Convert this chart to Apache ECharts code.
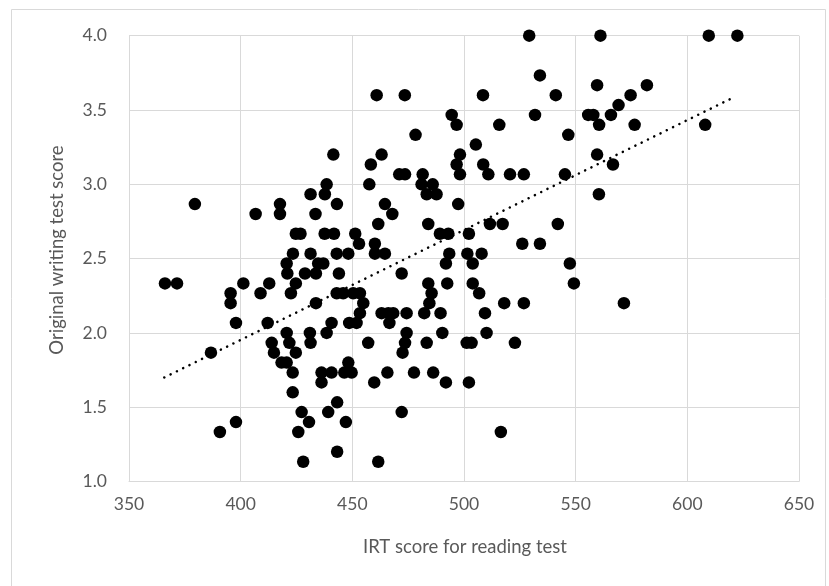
<!DOCTYPE html>
<html>
<head>
<meta charset="utf-8">
<script src="https://cdn.jsdelivr.net/npm/echarts@6/dist/echarts.min.js"></script>
<style>
html,body{margin:0;padding:0;background:#fff;}
#chart{width:829px;height:586px;}
</style>
</head>
<body>
<div id="chart"></div>
<script>
// IRT score for reading test (x) and original writing test score (y)
const readingScores = [
366.1,371.5,379.5,386.7,390.7,397.9,395.5,395.5,397.9,401.2,
406.7,408.9,412.8,412.1,413.9,414.9,417.6,417.6,418.3,420.6,
420.6,420.6,420.9,421.8,422.5,423.3,423.3,423.4,424.7,426.8,
424.7,424.7,425.8,427.3,428.0,428.8,430.6,431.0,431.3,431.3,
431.3,433.5,433.7,433.7,434.7,437.0,436.2,436.2,437.6,437.7,
438.5,438.5,439.2,440.7,440.7,441.5,441.8,443.1,443.0,444.0,
443.0,445.9,450.4,453.4,443.2,443.2,446.4,449.7,448.2,447.1,
448.2,448.6,451.9,451.3,453.0,454.9,453.4,457.1,458.3,457.6,
459.8,460.1,460.1,460.9,461.6,461.6,463.1,463.1,464.6,464.6,
466.1,466.6,467.9,468.3,465.7,471.0,473.6,472.1,472.1,473.5,
474.3,474.3,473.6,472.5,477.6,478.3,481.5,481.0,486.0,483.3,
487.7,482.2,483.3,484.0,484.0,485.5,484.5,486.2,489.2,493.0,
489.5,490.3,491.9,492.5,493.4,491.9,494.5,496.7,496.7,498.2,
498.2,497.4,501.5,503.9,502.2,503.9,501.2,503.4,502.2,505.3,
506.8,507.9,508.5,508.6,509.4,510.1,510.9,511.6,515.8,516.5,
517.3,518.0,520.6,522.8,526.1,526.8,526.8,529.2,531.8,534.0,
534.0,541.1,542.0,545.2,546.7,547.4,549.2,555.6,557.9,559.6,
560.5,559.6,560.4,561.1,565.8,566.7,569.2,571.6,574.6,576.4,
581.9,608.0,609.6,622.4
];
const writingScores = [
2.333,2.333,2.867,1.867,1.333,1.4,2.267,2.2,2.067,2.333,
2.8,2.267,2.333,2.067,1.933,1.867,2.867,2.8,1.8,1.8,
2.0,2.467,2.4,1.933,2.267,1.733,1.6,2.533,2.667,2.667,
2.333,1.867,1.333,1.467,1.133,2.4,1.4,2.0,1.933,2.933,
2.533,2.8,2.4,2.2,2.467,2.467,1.733,1.667,2.667,2.933,
3.0,2.0,1.467,2.067,1.733,3.2,2.667,2.867,2.533,2.4,
2.267,2.267,2.267,2.267,1.533,1.2,1.733,1.733,1.8,1.4,
2.533,2.067,2.067,2.667,2.6,2.2,2.133,1.933,3.133,3.0,
1.667,2.6,2.533,3.6,2.733,1.133,3.2,2.133,2.867,2.533,
2.133,2.067,2.8,2.133,1.733,3.067,3.067,2.4,1.467,3.6,
2.133,2.0,1.933,1.867,1.733,3.333,3.067,3.0,3.0,2.933,
2.933,2.133,1.933,2.733,2.333,2.267,2.2,1.733,2.667,2.667,
2.133,2.0,1.667,2.333,2.533,2.467,3.467,3.4,3.133,3.2,
3.067,2.867,2.533,2.467,2.667,2.333,1.933,1.933,1.667,3.267,
2.267,2.533,3.6,3.133,2.133,2.0,3.067,2.733,3.4,1.333,
2.733,2.2,3.067,1.933,2.6,3.067,2.2,4.0,3.467,3.733,
2.6,3.6,2.733,3.067,3.333,2.467,2.333,3.467,3.467,3.667,
3.4,3.2,2.933,4.0,3.467,3.133,3.533,2.2,3.6,3.4,
3.667,3.4,4.0,4.0
];
// Linear trendline end points
const trendX = [365.8, 620.7];
const trendY = [1.70, 3.585];
const xTicks = [350, 400, 450, 500, 550, 600, 650];
const yTicks = [1.0, 1.5, 2.0, 2.5, 3.0, 3.5, 4.0];
const xTitle = 'IRT score for reading test';
const yTitle = 'Original writing test score';

const points = readingScores.map((x, i) => [x, writingScores[i]]);
const trend = trendX.map((x, i) => [x, trendY[i]]);

const font = 'Lato, "Open Sans", "Liberation Sans", sans-serif';
const chart = echarts.init(document.getElementById('chart'), null, {renderer: 'canvas'});
chart.setOption({
  backgroundColor: '#ffffff',
  animation: false,
  grid: {left: 129, right: 30, top: 35.7, bottom: 104.5, containLabel: false},
  xAxis: {
    type: 'value',
    min: xTicks[0], max: xTicks[xTicks.length - 1], interval: 50,
    axisLine: {show: true, lineStyle: {color: '#d9d9d9', width: 1}},
    axisTick: {show: false},
    splitLine: {show: true, lineStyle: {color: '#d9d9d9', width: 1}},
    axisLabel: {color: '#595959', fontSize: 17.5, fontFamily: font, margin: 14}
  },
  yAxis: {
    type: 'value',
    min: yTicks[0], max: yTicks[yTicks.length - 1], interval: 0.5,
    axisLine: {show: true, lineStyle: {color: '#d9d9d9', width: 1}},
    axisTick: {show: false},
    splitLine: {show: true, lineStyle: {color: '#d9d9d9', width: 1}},
    axisLabel: {color: '#595959', fontSize: 17.5, fontFamily: font, margin: 22,
      formatter: v => v.toFixed(1)}
  },
  graphic: [
    {type: 'rect', shape: {x: 11.5, y: 9.5, width: 814, height: 600},
     style: {fill: 'none', stroke: '#d9d9d9', lineWidth: 1}, silent: true, z: -1},
    {type: 'text', x: 465, y: 547, style: {text: xTitle, fill: '#595959',
      font: '18.5px ' + font, align: 'center', verticalAlign: 'middle'}},
    {type: 'text', x: 57, y: 250, rotation: Math.PI / 2, style: {text: yTitle, fill: '#595959',
      font: '18.5px ' + font, align: 'center', verticalAlign: 'middle'}}
  ],
  series: [
    {
      type: 'scatter',
      data: points,
      symbol: 'circle',
      symbolSize: 12.5,
      itemStyle: {color: '#000000', opacity: 1},
      z: 3
    },
    {
      type: 'line',
      data: trend,
      symbol: 'none',
      lineStyle: {color: '#000000', width: 2.5, type: [0.1, 6.9], cap: 'round', opacity: 1},
      z: 4
    }
  ]
});
</script>
</body>
</html>
